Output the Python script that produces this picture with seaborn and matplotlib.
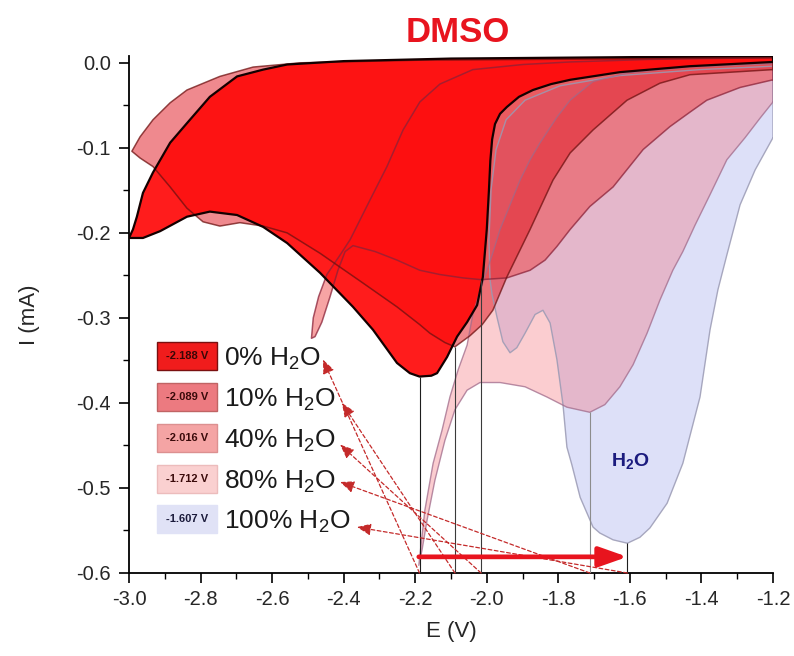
import numpy as np
import matplotlib
matplotlib.use("Agg")
import matplotlib.pyplot as plt
import seaborn as sns
from matplotlib.patches import Rectangle
from matplotlib.ticker import MultipleLocator, FuncFormatter

# ---------------- data (E in V, I in mA) ----------------
# 0 % H2O
E_0_fwd = [-1.200, -1.432, -1.628, -1.767, -1.820, -1.871, -1.910, -1.944, -1.963, -1.977, -1.985, -1.990,
           -1.994, -2.000, -2.011, -2.027, -2.055, -2.083, -2.111, -2.139, -2.155, -2.188, -2.215, -2.251,
           -2.318, -2.374, -2.466, -2.558, -2.625, -2.698, -2.774, -2.838, -2.913, -2.961, -3.000]
I_0_fwd = [0.001, -0.004, -0.011, -0.020, -0.025, -0.032, -0.040, -0.052, -0.060, -0.072, -0.090, -0.115,
           -0.150, -0.196, -0.252, -0.285, -0.305, -0.322, -0.346, -0.365, -0.368, -0.369, -0.365, -0.353,
           -0.314, -0.287, -0.247, -0.212, -0.193, -0.179, -0.175, -0.181, -0.198, -0.206, -0.206]
E_0_rev = [-3.000, -2.989, -2.978, -2.961, -2.933, -2.885, -2.838, -2.774, -2.698, -2.625, -2.558, -2.400,
           -2.100, -1.800, -1.500, -1.200]
I_0_rev = [-0.206, -0.196, -0.181, -0.153, -0.129, -0.094, -0.071, -0.040, -0.016, -0.008, -0.002, 0.002,
           0.005, 0.006, 0.007, 0.008]

# 10 % H2O
E_10_fwd = [-1.200, -1.432, -1.516, -1.608, -1.703, -1.767, -1.815, -1.879, -1.944, -1.983, -2.013, -2.047,
            -2.089, -2.117, -2.159, -2.187, -2.251, -2.346, -2.466, -2.558, -2.625, -2.690, -2.746, -2.793,
            -2.838, -2.885, -2.933, -2.969, -2.992]
I_10_fwd = [-0.008, -0.014, -0.024, -0.044, -0.079, -0.106, -0.138, -0.196, -0.252, -0.291, -0.308, -0.321,
            -0.334, -0.329, -0.318, -0.308, -0.287, -0.259, -0.224, -0.200, -0.192, -0.188, -0.192, -0.187,
            -0.171, -0.146, -0.122, -0.112, -0.104]
E_10_rev = [-2.992, -2.969, -2.933, -2.885, -2.838, -2.746, -2.653, -2.520, -2.200, -1.200]
I_10_rev = [-0.104, -0.087, -0.067, -0.047, -0.032, -0.016, -0.005, 0.000, 0.003, 0.006]

# 40 % H2O
E_40_fwd = [-1.200, -1.292, -1.385, -1.432, -1.488, -1.563, -1.647, -1.712, -1.767, -1.804, -1.837, -1.879,
            -1.944, -2.016, -2.066, -2.131, -2.187, -2.251, -2.312, -2.374, -2.396, -2.416, -2.438, -2.461,
            -2.480, -2.490]
I_40_fwd = [-0.020, -0.029, -0.044, -0.058, -0.075, -0.102, -0.146, -0.169, -0.196, -0.216, -0.232, -0.244,
            -0.253, -0.255, -0.253, -0.249, -0.244, -0.232, -0.222, -0.215, -0.222, -0.244, -0.275, -0.305,
            -0.322, -0.324]
E_40_rev = [-2.490, -2.485, -2.470, -2.447, -2.410, -2.382, -2.326, -2.279, -2.234, -2.187, -2.131, -2.039,
            -1.899, -1.767, -1.544, -1.200]
I_40_rev = [-0.324, -0.300, -0.275, -0.249, -0.226, -0.208, -0.161, -0.122, -0.079, -0.046, -0.025, -0.008,
            -0.002, 0.001, 0.004, 0.006]

# 80 % H2O
E_80_fwd = [-1.200, -1.236, -1.278, -1.329, -1.376, -1.418, -1.452, -1.480, -1.516, -1.552, -1.591, -1.628,
            -1.670, -1.712, -1.776, -1.832, -1.893, -1.963, -2.019, -2.055, -2.089, -2.117, -2.145, -2.167,
            -2.181, -2.190]
I_80_fwd = [-0.046, -0.065, -0.088, -0.114, -0.155, -0.191, -0.222, -0.244, -0.279, -0.318, -0.355, -0.381,
            -0.402, -0.411, -0.405, -0.393, -0.381, -0.376, -0.376, -0.385, -0.408, -0.444, -0.491, -0.538,
            -0.573, -0.591]
E_80_rev = [-2.190, -2.173, -2.150, -2.125, -2.103, -2.080, -2.055, -2.039, -2.011, -1.985, -1.963, -1.935,
            -1.907, -1.879, -1.851, -1.804, -1.767, -1.703, -1.608, -1.432, -1.200]
I_80_rev = [-0.591, -0.526, -0.471, -0.432, -0.393, -0.361, -0.332, -0.296, -0.258, -0.226, -0.196, -0.167,
            -0.138, -0.114, -0.094, -0.064, -0.044, -0.022, -0.012, -0.005, -0.001]

# 100 % H2O
E_100_fwd = [-1.200, -1.250, -1.292, -1.329, -1.354, -1.376, -1.404, -1.452, -1.496, -1.544, -1.572, -1.607,
             -1.647, -1.684, -1.703, -1.739, -1.762, -1.776, -1.787, -1.804, -1.823, -1.843, -1.865, -1.893,
             -1.916, -1.935, -1.955, -1.971, -1.985, -1.991]
I_100_fwd = [-0.088, -0.126, -0.167, -0.226, -0.267, -0.314, -0.393, -0.471, -0.518, -0.547, -0.558, -0.565,
             -0.561, -0.553, -0.546, -0.511, -0.473, -0.452, -0.402, -0.349, -0.306, -0.291, -0.296, -0.318,
             -0.335, -0.341, -0.328, -0.300, -0.273, -0.255]
E_100_rev = [-1.991, -1.994, -1.988, -1.974, -1.946, -1.893, -1.795, -1.628, -1.404, -1.200]
I_100_rev = [-0.255, -0.208, -0.149, -0.102, -0.067, -0.044, -0.027, -0.015, -0.008, -0.004]

# peak positions / legend
peak_E = [-2.188, -2.089, -2.016, -1.712, -1.607]
peak_I = [-0.369, -0.334, -0.255, -0.411, -0.565]
swatch_text = ["-2.188 V", "-2.089 V", "-2.016 V", "-1.712 V", "-1.607 V"]
labels = ["0% H$_2$O", "10% H$_2$O", "40% H$_2$O", "80% H$_2$O", "100% H$_2$O"]
arrow_tip_E = [-2.458, -2.405, -2.410, -2.410, -2.363]
arrow_tip_I = [-0.349, -0.400, -0.449, -0.493, -0.546]
shift_E = [-2.190, -1.607]
shift_I = -0.581

x_ticks = [-3.0, -2.8, -2.6, -2.4, -2.2, -2.0, -1.8, -1.6, -1.4, -1.2]
y_ticks = [0.0, -0.1, -0.2, -0.3, -0.4, -0.5, -0.6]

# ---------------- style ----------------
sns.set_theme(style="ticks")
plt.rcParams['font.family'] = ['Liberation Sans', 'DejaVu Sans']
plt.rcParams['mathtext.fontset'] = 'custom'
plt.rcParams['mathtext.rm'] = 'Liberation Sans'
plt.rcParams['mathtext.it'] = 'Liberation Sans:italic'
plt.rcParams['mathtext.bf'] = 'Liberation Sans:bold'
plt.rcParams['axes.unicode_minus'] = False

fig = plt.figure(figsize=(7.94, 6.56), dpi=100)
ax = fig.add_axes([129 / 794, 83 / 656, 644 / 794, 517 / 656])

loops = [
    (E_100_fwd + E_100_rev, I_100_fwd + I_100_rev, '#bcc3f2', 0.50, '#9a9ab4', 1.0, 0.85),
    (E_80_fwd + E_80_rev, I_80_fwd + I_80_rev, '#f55a64', 0.30, '#a06a8a', 1.0, 0.75),
    (E_40_fwd + E_40_rev, I_40_fwd + I_40_rev, '#ee2828', 0.42, '#8a2238', 1.1, 0.75),
    (E_10_fwd + E_10_rev, I_10_fwd + I_10_rev, '#e1141e', 0.50, '#6e1010', 1.1, 0.75),
    (E_0_fwd + E_0_rev, I_0_fwd + I_0_rev, '#ff0a0a', 0.93, '#140000', 1.6, 1.0),
]
for k, (E, I, fc, fa, ec, lw, ea) in enumerate(loops):
    ax.fill(E, I, color=fc, alpha=fa, lw=0, zorder=1 + k)
for k, (E, I, fc, fa, ec, lw, ea) in enumerate(loops):
    sns.lineplot(x=E + E[:1], y=I + I[:1], sort=False, estimator=None, color=ec, lw=lw,
                 alpha=ea, ax=ax, zorder=7 + k, legend=False)

# peak marker lines
mcol = ['#1e1e1e', '#3a3a3a', '#3a3a3a', '#8c8c8c', '#1e1e1e']
for e, i, c in zip(peak_E, peak_I, mcol):
    ax.vlines(e, -0.6, i, colors=c, lw=0.8, zorder=13)

# dashed arrows from the axis to the legend labels
for e, te, ti in zip(peak_E, arrow_tip_E, arrow_tip_I):
    ax.annotate('', xy=(te, ti), xytext=(e, -0.6),
                arrowprops=dict(arrowstyle='-|>,head_length=0.6,head_width=0.25', color='#c42a2a',
                                lw=0.9, ls=(0, (3, 2)), mutation_scale=14, shrinkA=0, shrinkB=0),
                zorder=14)

# shift arrow
ax.annotate('', xy=(shift_E[1], shift_I), xytext=(shift_E[0], shift_I),
            arrowprops=dict(arrowstyle='-|>,head_length=0.85,head_width=0.3', color='#e8141e',
                            lw=3.4, mutation_scale=20, shrinkA=0, shrinkB=0), zorder=15)

ax.text(-1.6, -0.468, r'H$_\mathbf{2}$O', color='#1b1b7e', fontsize=14, fontweight='bold',
        ha='center', va='center', zorder=16)

# legend boxes
sw_fc = ['#f01c1c', '#ec7a80', '#f4a4a4', '#fad0d0', '#e0e2f6']
sw_ec = ['#7a1010', '#c06464', '#dc9090', '#ecbcbc', '#e0e2f6']
sw_tc = ['#3a0606', '#3a0a0a', '#3a0a0a', '#3a0a0a', '#1a1a3a']
for r in range(5):
    yc = 0.4197 - r * 0.0790
    ax.add_patch(Rectangle((0.0435, yc - 0.027), 0.0932, 0.054, transform=ax.transAxes,
                           facecolor=sw_fc[r], edgecolor=sw_ec[r], lw=1.0, zorder=20))
    ax.text(0.0435 + 0.0466, yc, swatch_text[r], transform=ax.transAxes, ha='center', va='center',
            fontsize=8, fontweight='bold', color=sw_tc[r], zorder=21)
    ax.text(0.1475, yc - 0.019, labels[r], transform=ax.transAxes, ha='left', va='baseline',
            fontsize=19, color='#1a1a1a', zorder=21)

# axes
ax.set_xlim(-3.0, -1.2)
ax.set_ylim(-0.6, 0.008)
ax.set_xticks(x_ticks)
ax.set_yticks(y_ticks)
ax.xaxis.set_minor_locator(MultipleLocator(0.1))
ax.yaxis.set_minor_locator(MultipleLocator(0.05))
fmt = FuncFormatter(lambda v, p: "0.0" if abs(v) < 1e-9 else "%.1f" % v)
ax.xaxis.set_major_formatter(fmt)
ax.yaxis.set_major_formatter(fmt)
ax.tick_params(which='major', direction='out', length=7, width=1.2, labelsize=14.5, pad=5, color='black')
ax.tick_params(which='minor', direction='out', length=4, width=1.0, color='black')
ax.tick_params(axis='y', which='major', pad=6)
sns.despine(ax=ax)
for s in ['left', 'bottom']:
    ax.spines[s].set_linewidth(1.3)
    ax.spines[s].set_color('black')
ax.set_xlabel('E (V)', fontsize=16, labelpad=9)
ax.set_ylabel('I (mA)', fontsize=16, labelpad=26)
ax.set_facecolor('white')
ax.grid(False)

fig.text(0.577, 0.951, 'DMSO', color='#e8141e', fontsize=25, fontweight='bold', ha='center', va='center')

fig.savefig('out.png', dpi=100, facecolor='white')
